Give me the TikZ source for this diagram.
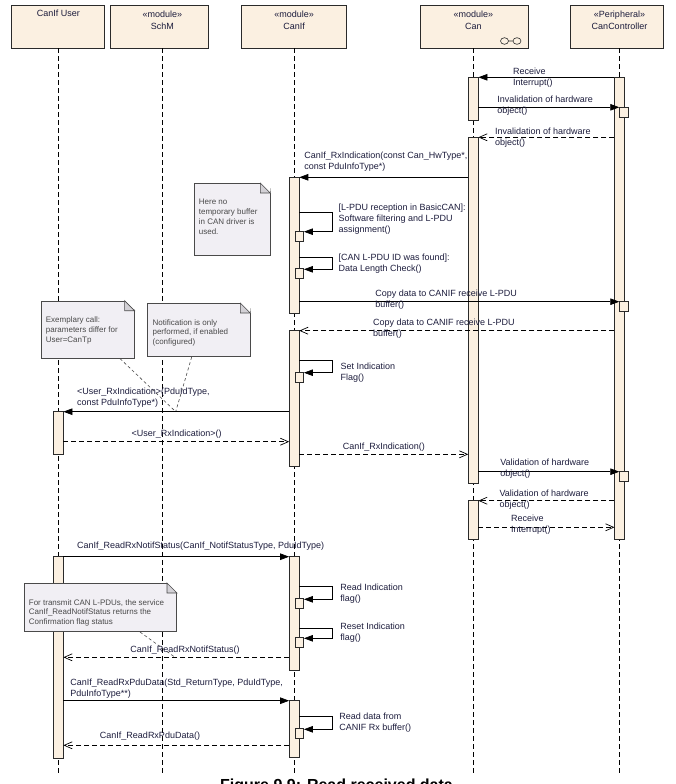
\documentclass[tikz,border=0pt]{standalone}
\usepackage{fontspec}
\setmainfont{Liberation Sans}
\usetikzlibrary{arrows.meta}
\definecolor{umlfill}{HTML}{FBF0E1}
\definecolor{umldraw}{HTML}{2A2A2A}
\definecolor{notefill}{HTML}{F1EFF4}
\definecolor{notefold}{HTML}{D3D1D6}
\definecolor{notedraw}{HTML}{4A4A4A}
\definecolor{msgtext}{HTML}{1C1C3C}
\definecolor{notetext}{HTML}{4A4A4A}

\begin{document}
\begin{tikzpicture}[x=1pt, y=-1pt,
        head/.style={draw=umldraw, fill=umlfill, minimum height=43pt, line width=0.7pt, inner sep=0},
        headtext/.style={font=\fontsize{9}{12.4}\selectfont, align=center, inner sep=0, text=msgtext},
        lifeline/.style={draw=black, line width=0.7pt, dash pattern=on 5pt off 3pt},
        bar/.style={draw=umldraw, fill=umlfill, minimum width=9.4pt, inner sep=0, line width=0.7pt},
        sub/.style={bar, minimum width=8.5pt, minimum height=10pt, anchor=north west},
        call/.style={-{Triangle[length=9pt,width=6.5pt]}, line width=0.7pt},
        reply/.style={-{Straight Barb[length=8pt,width=7pt]}, line width=0.7pt, dash pattern=on 5pt off 3pt},
        msg/.style={font=\fontsize{9}{11}\selectfont, text=msgtext, align=left, inner sep=0, anchor=west},
        note/.style={draw=notedraw, fill=notefill, line width=0.6pt, inner sep=0},
        fold/.style={draw=notedraw, fill=notefold, line width=0.6pt},
        notetxt/.style={font=\fontsize{8}{9.8}\selectfont, text=notetext, align=left, inner sep=0, anchor=north west},
        noteline/.style={draw=notedraw, line width=0.6pt, dash pattern=on 3pt off 2.5pt}
    ]
    \useasboundingbox (0,0) rectangle (676,784);
    \clip (0,0) rectangle (676,784);

    % lifeline heads
    \node[head, minimum width=92.7pt]  (user)  at (58.05,26.5)  {};
    \node[head, minimum width=97.9pt]  (schm)  at (159,26.5)    {};
    \node[head, minimum width=104.7pt] (canif) at (293.9,26.5)  {};
    \node[head, minimum width=107.7pt] (can)   at (474.25,26.5) {};
    \node[head, minimum width=93.1pt]  (ctl)   at (616.5,26.5)  {};
    \node[headtext] (usertxt)  at (58.3,13.4)  {CanIf User};
    \node[headtext] (schmtxt)  at (162.3,20.5) {«module»\\SchM};
    \node[headtext] (caniftxt) at (294.2,20.5) {«module»\\CanIf};
    \node[headtext] (cantxt)   at (473.3,20.5) {«module»\\Can};
    \node[headtext] (ctltxt)   at (619.5,20.5) {«Peripheral»\\CanController};
    \draw[umldraw, line width=0.6pt] (504.5,41) circle[x radius=4, y radius=3.3]
        (517,41) circle[x radius=4, y radius=3.3] (508.5,41) -- (513,41);

    \foreach \n/\x in {user/58.3, schm/162.3, canif/294.2, can/473.3, ctl/619.5}
        \draw[lifeline] (\n.south -| \x,0) -- (\x,772.7);

    % activations
    \node[bar, minimum height=462pt]   (ctl1)   at (619.5,308.3) {};
    \node[bar, minimum height=43pt]    (can1)   at (473.3,98.8)  {};
    \node[bar, minimum height=346pt]   (can2)   at (473.3,310.3) {};
    \node[bar, minimum height=38.6pt]  (can3)   at (473.3,520)   {};
    \node[bar, minimum height=136pt]   (canif1) at (294.2,245.3) {};
    \node[bar, minimum height=136pt]   (canif2) at (294.2,398)   {};
    \node[bar, minimum height=113.3pt] (canif3) at (294.2,613.35) {};
    \node[bar, minimum height=56.6pt]  (canif4) at (294.2,729)   {};
    \node[bar, minimum height=42.3pt]  (user1)  at (58.3,432.85) {};
    \node[bar, minimum height=202pt]   (user2)  at (58.3,657.7)  {};

    \node[sub] (cinv)   at (619.3,106.8) {};
    \node[sub] (ccopy)  at (619.3,301.2) {};
    \node[sub] (cval)   at (619.3,471.2) {};
    \node[sub] (sfilt)  at (294.7,230.7) {};
    \node[sub] (slen)   at (294.7,268.3) {};
    \node[sub] (sflag)  at (294.7,371.7) {};
    \node[sub] (sread)  at (294.7,598.3) {};
    \node[sub] (sreset) at (294.7,637.3) {};
    \node[sub] (sbuf)   at (294.7,728.3) {};

    % notes
    \node[note, minimum width=76pt, minimum height=71.7pt]    (tmpbuf)  at (232,219.15)   {};
    \node[note, minimum width=93.3pt, minimum height=57.3pt]  (userp)   at (87.65,329.65) {};
    \node[note, minimum width=102.3pt, minimum height=53.4pt] (notif)   at (198.85,330)   {};
    \node[note, minimum width=152.7pt, minimum height=48.4pt] (confirm) at (100.35,607.5) {};
    \foreach \n in {tmpbuf,userp,notif,confirm} {
        \fill[white] ([xshift=-10pt]\n.north east) -- ([xshift=1pt,yshift=1pt]\n.north east)
            -- ([yshift=-10pt]\n.north east) -- cycle;
        \draw[fold] ([xshift=-10pt]\n.north east) |- ([yshift=-10pt]\n.north east) -- cycle;
    }
    \node[notetxt] (tmpbuftxt)  at ([xshift=5pt,yshift=-16pt]tmpbuf.north west)  {Here no\\temporary buffer\\in CAN driver is\\used.};
    \node[notetxt] (userptxt)   at ([xshift=5pt,yshift=-16pt]userp.north west)   {Exemplary call:\\parameters differ for\\User=CanTp};
    \node[notetxt] (notiftxt)   at ([xshift=5pt,yshift=-16pt]notif.north west)   {Notification is only\\performed, if enabled\\(configured)};
    \node[notetxt] (confirmtxt) at ([xshift=5pt,yshift=-16pt]confirm.north west) {For transmit CAN L-PDUs, the service\\CanIf\_ReadNotifStatus returns the\\Confirmation flag status};
    \coordinate (rxpt)   at (175.7,411.7);
    \coordinate (statpt) at (175,657.3);
    \draw[noteline] (userp.south -| 120,0) -- (rxpt);
    \draw[noteline] (notif.south -| 191.7,0) -- (rxpt);
    \draw[noteline] (confirm.south -| 140,0) -- (statpt);

    % messages
    \draw[call] (ctl1.west |- 0,77.3) -- (can1.east |- 0,77.3)
        node[msg] (m1) at (512.7,77.5) {Receive\\Interrupt()};
    \draw[call] (can1.east |- 0,107.3) -- (cinv.west |- 0,107.3)
        node[msg] (m2) at (497,105.3) {Invalidation of hardware\\object()};
    \draw[reply] (ctl1.west |- 0,137.3) -- (can2.east |- 0,137.3)
        node[msg] (m3) at (494.7,137.3) {Invalidation of hardware\\object()};
    \draw[call] (can2.west |- 0,177.3) -- (canif1.east |- 0,177.3)
        node[msg] (m4) at (304,162) {CanIf\_RxIndication(const Can\_HwType*,\\const PduInfoType*)};
    \draw[call] (canif1.east |- 0,212.3) -- (332.7,212.3) |- (sfilt.east |- 0,231.7)
        node[msg] (m5) at (338.3,219.5) {[L-PDU reception in BasicCAN]:\\Software filtering and L-PDU\\assignment()};
    \draw[call] (canif1.east |- 0,257.3) -- (332.7,257.3) |- (slen.east |- 0,269.3)
        node[msg] (m6) at (338.3,263.8) {[CAN L-PDU ID was found]:\\Data Length Check()};
    \draw[call] (canif1.east |- 0,301.7) -- (ccopy.west |- 0,301.7)
        node[msg] (m7) at (375,299.8) {Copy data to CANIF receive L-PDU\\buffer()};
    \draw[reply] (ctl1.west |- 0,330.7) -- (canif2.east |- 0,330.7)
        node[msg] (m8) at (372.7,329) {Copy data to CANIF receive L-PDU\\buffer()};
    \draw[call] (canif2.east |- 0,360.7) -- (332.7,360.7) |- (sflag.east |- 0,372.7)
        node[msg] (m9) at (340.3,372.7) {Set Indication\\Flag()};
    \draw[call] (canif2.west |- 0,411.7) -- (user1.east |- 0,411.7)
        node[msg] (m10) at (76.7,397.8) {<User\_RxIndication>(PduIdType,\\const PduInfoType*)};
    \draw[reply] (user1.east |- 0,441.7) -- (canif2.west |- 0,441.7)
        node[msg, anchor=center] (m11) at (176.7,434) {<User\_RxIndication>()};
    \draw[reply] (canif2.east |- 0,454.3) -- (can2.west |- 0,454.3)
        node[msg, anchor=center] (m12) at (383.8,447) {CanIf\_RxIndication()};
    \draw[call] (can2.east |- 0,471.7) -- (cval.west |- 0,471.7)
        node[msg] (m13) at (500,468.8) {Validation of hardware\\object()};
    \draw[reply] (ctl1.west |- 0,500.7) -- (can3.east |- 0,500.7)
        node[msg] (m14) at (499.3,499.5) {Validation of hardware\\object()};
    \draw[reply] (can3.east |- 0,527.3) -- (ctl1.west |- 0,527.3)
        node[msg] (m15) at (510.7,524.5) {Receive\\Interrupt()};
    \draw[call] (user2.east |- 0,556.7) -- (canif3.west |- 0,556.7)
        node[msg] (m16) at (76.7,545.7) {CanIf\_ReadRxNotifStatus(CanIf\_NotifStatusType, PduIdType)};
    \draw[call] (canif3.east |- 0,586.7) -- (332.7,586.7) |- (sread.east |- 0,599.3)
        node[msg] (m17) at (340,593.3) {Read Indication\\flag()};
    \draw[call] (canif3.east |- 0,628.3) -- (332.7,628.3) |- (sreset.east |- 0,638.3)
        node[msg] (m18) at (340,632.5) {Reset Indication\\flag()};
    \draw[reply] (canif3.west |- 0,657.3) -- (user2.east |- 0,657.3)
        node[msg, anchor=center] (m19) at (185,650) {CanIf\_ReadRxNotifStatus()};
    \draw[call] (user2.east |- 0,700.7) -- (canif4.west |- 0,700.7)
        node[msg] (m20) at (70,689) {CanIf\_ReadRxPduData(Std\_ReturnType, PduIdType,\\PduInfoType**)};
    \draw[call] (canif4.east |- 0,716.7) -- (332.7,716.7) |- (sbuf.east |- 0,729.3)
        node[msg] (m21) at (339,723) {Read data from\\CANIF Rx buffer()};
    \draw[reply] (canif4.west |- 0,745.3) -- (user2.east |- 0,745.3)
        node[msg, anchor=center] (m22) at (150,736) {CanIf\_ReadRxPduData()};

    \node[anchor=north west, inner sep=0, font=\bfseries\fontsize{16}{18}\selectfont] (caption)
        at (220,778.5) {Figure 9.9: Read received data};
\end{tikzpicture}
\end{document}
